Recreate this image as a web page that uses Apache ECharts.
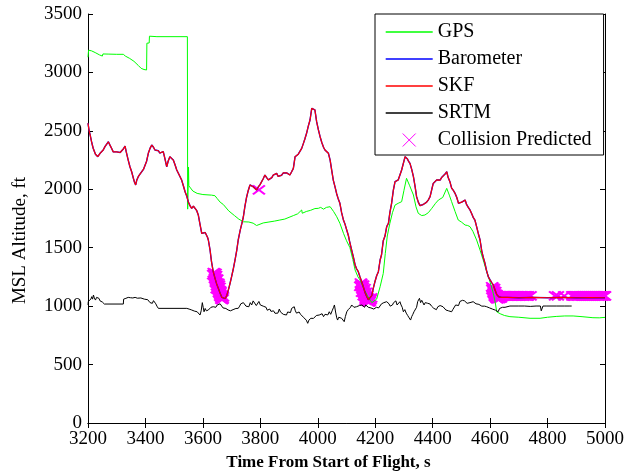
<!DOCTYPE html>
<html>
<head>
<meta charset="utf-8">
<script src="https://cdn.jsdelivr.net/npm/echarts@6/dist/echarts.min.js"></script>
<style>
  html, body { margin: 0; padding: 0; background: #fff; }
  #chart { width: 629px; height: 476px; }
</style>
</head>
<body>
<div id="chart"></div>
<script>
// ---- Data: [time s, altitude ft] ----
const gpsData = [
  [3200,3130],[3202,3190],[3206,3195],[3212,3185],[3225,3170],[3240,3150],[3250,3140],[3252,3158],
  [3270,3157],[3300,3155],[3323,3155],[3330,3140],[3345,3120],[3360,3095],[3375,3060],[3385,3035],
  [3395,3025],[3404,3021],[3405,3250],[3413,3252],[3414,3310],[3420,3312],[3440,3306],[3546,3306],
  [3547,1830],[3549,1830],[3550,2190],[3551,2030],[3555,2015],[3565,1985],[3580,1965],[3600,1955],
  [3630,1950],[3642,1945],[3650,1920],[3660,1890],[3671,1870],[3690,1815],[3710,1775],[3725,1745],
  [3741,1722],[3760,1720],[3775,1710],[3787,1690],[3790,1705],[3810,1712],[3830,1720],[3850,1728],
  [3868,1737],[3885,1745],[3900,1760],[3915,1775],[3930,1790],[3944,1823],[3946,1795],[3960,1810],
  [3975,1820],[3990,1835],[4002,1837],[4010,1845],[4020,1830],[4030,1845],[4043,1851],[4055,1810],
  [4066,1765],[4077,1709],[4090,1620],[4100,1560],[4112,1500],[4122,1400],[4130,1309],[4140,1250],
  [4147,1224],[4160,1150],[4175,1080],[4188,1030],[4193,1024],[4205,1060],[4217,1166],[4228,1280],
  [4235,1450],[4242,1600],[4251,1709],[4260,1800],[4269,1865],[4280,1880],[4292,1894],[4300,1990],
  [4309,2094],[4320,2030],[4333,1951],[4342,1850],[4350,1794],[4362,1775],[4373,1780],[4385,1800],
  [4397,1837],[4410,1880],[4420,1908],[4435,1930],[4449,2008],[4458,1950],[4466,1894],[4478,1810],
  [4489,1737],[4500,1720],[4513,1694],[4522,1690],[4530,1680],[4540,1640],[4553,1566],[4565,1480],
  [4576,1395],[4585,1320],[4594,1252],[4603,1180],[4611,1110],[4618,1030],[4623,952],[4635,935],
  [4650,920],[4669,910],[4700,905],[4739,896],[4774,896],[4800,905],[4830,912],[4860,916],
  [4889,916],[4920,910],[4958,901],[4980,900],[5000,904]
];

const skfData = [
  [3200,2565],[3204,2500],[3208,2460],[3213,2400],[3218,2351],[3226,2300],[3234,2279],[3242,2308],
  [3248,2300],[3253,2336],[3259,2365],[3265,2370],[3271,2407],[3276,2380],[3282,2351],[3288,2320],
  [3294,2308],[3300,2320],[3306,2322],[3312,2315],[3318,2330],[3323,2345],[3329,2370],[3333,2322],
  [3340,2250],[3346,2193],[3352,2150],[3358,2094],[3362,2060],[3366,2037],[3370,2080],[3375,2108],
  [3381,2130],[3387,2150],[3393,2170],[3398,2179],[3404,2240],[3410,2308],[3416,2350],[3422,2379],
  [3428,2360],[3433,2336],[3439,2320],[3445,2330],[3450,2310],[3456,2293],[3462,2322],[3468,2260],
  [3474,2193],[3479,2240],[3485,2279],[3491,2265],[3497,2250],[3503,2210],[3509,2165],[3518,2120],
  [3526,2079],[3532,2030],[3538,1979],[3544,1940],[3549,1894],[3555,1860],[3561,1837],[3567,1855],
  [3573,1865],[3578,1820],[3584,1780],[3590,1700],[3596,1623],[3602,1609],[3608,1630],[3611,1623],
  [3616,1590],[3619,1566],[3625,1480],[3630,1380],[3636,1295],[3642,1240],[3648,1190],[3654,1150],
  [3660,1110],[3666,1075],[3672,1062],[3678,1065],[3683,1090],[3690,1150],[3695,1200],[3700,1252],
  [3706,1320],[3712,1395],[3718,1480],[3723,1566],[3730,1650],[3736,1710],[3741,1765],[3746,1850],
  [3752,1930],[3758,1990],[3764,2037],[3770,2030],[3776,2020],[3781,2010],[3787,1994],[3793,2020],
  [3799,2040],[3805,2051],[3810,2090],[3816,2122],[3822,2100],[3828,2080],[3834,2065],[3840,2100],
  [3845,2122],[3851,2130],[3857,2136],[3862,2110],[3868,2094],[3874,2120],[3880,2140],[3886,2150],
  [3892,2140],[3897,2130],[3903,2122],[3909,2150],[3915,2179],[3921,2279],[3927,2290],[3932,2300],
  [3938,2308],[3944,2350],[3950,2393],[3955,2430],[3961,2479],[3967,2540],[3973,2593],[3979,2693],
  [3984,2700],[3990,2679],[3996,2579],[4002,2510],[4008,2450],[4014,2400],[4020,2360],[4025,2336],
  [4031,2320],[4037,2308],[4043,2250],[4048,2170],[4054,2079],[4060,2020],[4066,1960],[4071,1920],
  [4077,1880],[4083,1800],[4089,1740],[4095,1700],[4101,1650],[4107,1600],[4112,1540],[4118,1480],
  [4124,1420],[4130,1352],[4135,1320],[4141,1295],[4147,1250],[4153,1209],[4158,1170],[4164,1120],
  [4170,1085],[4176,1055],[4182,1045],[4188,1090],[4193,1150],[4199,1209],[4205,1260],[4211,1295],
  [4217,1395],[4222,1440],[4228,1560],[4234,1600],[4240,1680],[4246,1709],[4251,1800],[4257,1880],
  [4263,1990],[4269,2065],[4275,2079],[4280,2080],[4286,2079],[4292,2165],[4298,2179],[4304,2279],
  [4307,2285],[4312,2260],[4316,2240],[4321,2222],[4327,2170],[4333,2108],[4339,2020],[4344,1937],
  [4350,1890],[4356,1860],[4362,1851],[4367,1870],[4373,1865],[4379,1890],[4385,1910],[4391,1937],
  [4397,2000],[4402,2050],[4408,2065],[4414,2080],[4420,2079],[4426,2079],[4431,2100],[4437,2108],
  [4443,2130],[4449,2150],[4454,2100],[4460,2065],[4466,2010],[4472,1990],[4478,1965],[4484,1930],
  [4490,1880],[4495,1865],[4501,1890],[4507,1905],[4513,1908],[4518,1870],[4524,1845],[4530,1823],
  [4536,1790],[4541,1760],[4547,1737],[4553,1680],[4559,1620],[4565,1566],[4571,1470],[4576,1420],
  [4582,1367],[4588,1300],[4594,1250],[4600,1224],[4606,1200],[4611,1181],[4617,1140],[4623,1100],
  [4630,1080],[4640,1075],[4660,1075],[4700,1072],[4750,1075],[4800,1072],[4850,1075],[4900,1072],
  [4950,1073],[5000,1072]
];

// Barometer trace coincides with the SKF trace in the picture
const baroData = skfData;

const srtmData = [
  [3200,1010],[3201,1040],[3205,1030],[3210,1060],[3213,1081],[3216,1060],[3219,1095],[3222,1070],
  [3226,1052],[3230,1075],[3234,1060],[3238,1067],[3242,1045],[3246,1050],[3250,1035],[3253,1024],
  [3257,1018],[3323,1018],[3324,1060],[3328,1050],[3332,1067],[3336,1055],[3340,1075],[3344,1060],
  [3348,1072],[3352,1058],[3356,1070],[3360,1062],[3364,1075],[3368,1060],[3372,1068],[3378,1062],
  [3384,1070],[3390,1065],[3396,1060],[3402,1064],[3408,1055],[3412,1047],[3416,1030],[3420,1040],
  [3424,1024],[3428,1047],[3432,1030],[3436,1020],[3440,1000],[3445,981],[3544,981],[3548,990],
  [3552,975],[3556,985],[3561,967],[3566,970],[3570,958],[3575,960],[3580,952],[3585,940],
  [3590,924],[3594,960],[3598,1030],[3601,990],[3604,952],[3608,980],[3612,960],[3616,975],
  [3619,967],[3624,980],[3628,990],[3632,985],[3636,995],[3640,1005],[3645,990],[3650,1010],
  [3655,1000],[3660,1020],[3665,1010],[3670,985],[3675,1000],[3680,980],[3684,990],[3688,967],
  [3692,975],[3696,960],[3700,952],[3705,970],[3710,965],[3715,980],[3719,975],[3723,981],
  [3728,1000],[3732,1020],[3736,1010],[3741,1030],[3745,1015],[3750,1000],[3755,1010],[3760,995],
  [3765,1030],[3770,1010],[3775,1045],[3781,1038],[3786,1005],[3790,1018],[3795,1040],[3800,1010],
  [3805,1018],[3810,1000],[3815,985],[3820,990],[3824,965],[3828,952],[3833,975],[3837,955],
  [3841,945],[3846,960],[3851,939],[3856,955],[3861,940],[3866,975],[3870,950],[3875,960],
  [3880,930],[3884,945],[3891,924],[3895,950],[3900,960],[3905,945],[3909,981],[3913,970],
  [3918,995],[3922,960],[3926,940],[3930,939],[3935,950],[3940,930],[3945,920],[3950,905],
  [3955,896],[3960,880],[3965,853],[3969,880],[3972,870],[3976,896],[3980,910],[3985,895],
  [3990,905],[3995,920],[4000,905],[4005,924],[4010,915],[4015,935],[4020,910],[4025,930],
  [4030,939],[4035,925],[4040,952],[4045,930],[4050,960],[4055,990],[4058,1010],[4062,950],
  [4066,900],[4069,881],[4073,905],[4078,890],[4083,896],[4088,880],[4092,867],[4096,910],
  [4101,952],[4106,970],[4110,985],[4114,990],[4118,1010],[4122,1000],[4126,990],[4130,981],
  [4135,995],[4140,985],[4145,1005],[4150,995],[4154,1010],[4158,1001],[4163,990],[4167,1010],
  [4172,1005],[4176,990],[4180,1000],[4185,985],[4190,1000],[4195,975],[4199,981],[4204,990],
  [4208,995],[4212,985],[4217,1000],[4222,1020],[4226,1010],[4230,1030],[4235,1015],[4240,1038],
  [4244,1047],[4248,1020],[4252,1000],[4256,995],[4260,1010],[4264,1030],[4268,1020],[4272,1045],
  [4276,1010],[4280,1000],[4286,1038],[4290,1010],[4294,990],[4298,952],[4303,970],[4308,940],
  [4313,920],[4318,900],[4323,881],[4327,910],[4331,930],[4335,952],[4340,960],[4344,990],
  [4348,1040],[4354,1067],[4358,1030],[4362,1050],[4366,1040],[4370,1010],[4374,1030],[4378,1045],
  [4382,1025],[4387,1010],[4391,1018],[4396,1000],[4400,990],[4404,981],[4409,990],[4413,970],
  [4418,995],[4422,985],[4426,1005],[4431,1010],[4436,995],[4440,985],[4446,967],[4450,980],
  [4455,960],[4460,965],[4466,952],[4470,970],[4476,985],[4480,1010],[4485,1020],[4490,1005],
  [4495,1040],[4500,1030],[4504,1050],[4507,1067],[4511,1045],[4515,1035],[4520,1024],[4525,1040],
  [4530,1030],[4535,1045],[4541,1038],[4546,1025],[4551,1020],[4556,1010],[4561,1015],[4566,1005],
  [4571,1000],[4576,1010],[4581,1000],[4588,995],[4593,990],[4598,985],[4603,980],[4608,975],
  [4614,973],[4619,965],[4624,955],[4628,952],[4633,980],[4638,970],[4643,990],[4646,995],
  [4652,990],[4658,1000],[4669,1001],[4700,1001],[4720,1001],[4740,998],[4760,1001],[4775,1001],
  [4778,960],[4781,952],[4784,1001],[4795,1001],[4830,1001],[4860,1001],[4875,1001],[4880,985],
  [4884,1001],[4886,1001]
];

// Collision predictions: dense clusters of X markers as seen in the picture
const collisionData = [
  [3795,1994],
  // cluster near 3650 s
  [3638,1288],[3640,1280],[3639,1268],[3641,1262],[3643,1250],[3642,1238],[3645,1232],[3646,1220],
  [3645,1206],[3648,1200],[3650,1190],[3649,1176],[3652,1170],[3653,1158],[3652,1146],[3655,1140],
  [3657,1128],[3656,1116],[3659,1110],[3661,1098],[3660,1086],[3663,1080],[3665,1070],[3664,1060],
  [3667,1056],[3669,1062],[3646,1262],[3650,1232],[3654,1196],[3658,1160],[3662,1122],[3666,1090],
  [3636,1270],[3644,1280],[3648,1150],[3656,1180],[3660,1130],[3670,1080],
  // cluster near 4170 s
  [4150,1198],[4152,1190],[4151,1178],[4154,1170],[4156,1160],[4155,1148],[4158,1140],[4160,1130],
  [4159,1118],[4162,1110],[4164,1100],[4163,1088],[4166,1082],[4168,1074],[4167,1062],[4170,1056],
  [4172,1050],[4174,1042],[4176,1036],[4178,1040],[4180,1036],[4182,1044],[4158,1180],[4163,1150],
  [4168,1118],[4172,1090],[4176,1068],[4180,1060],[4184,1058],[4186,1070],[4148,1170],[4154,1120],
  [4160,1090],[4166,1050],
  // cluster near 4620 s and the run to the right
  [4607,1166],[4609,1156],[4608,1144],[4611,1138],[4613,1126],[4612,1114],[4615,1108],[4617,1098],
  [4616,1086],[4619,1080],[4621,1072],[4623,1066],[4625,1062],[4628,1070],[4631,1064],[4634,1076],
  [4637,1068],[4640,1080],[4614,1150],[4618,1124],[4622,1100],[4626,1090],[4630,1086],[4634,1090],
  [4642,1088],[4645,1086],[4648,1090],[4652,1087],[4655,1088],[4659,1086],[4662,1089],[4666,1087],
  [4669,1088],[4673,1086],[4676,1089],[4680,1087],[4683,1088],[4687,1086],[4690,1089],[4694,1087],
  [4697,1088],[4701,1086],[4704,1089],[4708,1087],[4711,1088],[4715,1086],[4718,1089],[4722,1087],
  [4725,1088],[4729,1086],[4732,1088],[4741,1087],
  [4826,1087],[4836,1088],[4858,1087],
  [4886,1087],[4890,1088],[4893,1086],[4897,1089],[4900,1087],[4904,1088],[4907,1086],[4911,1089],
  [4914,1087],[4918,1088],[4921,1086],[4925,1089],[4928,1087],[4932,1088],[4935,1086],[4939,1089],
  [4942,1087],[4946,1088],[4949,1086],[4953,1089],[4956,1087],[4960,1088],[4963,1086],[4967,1089],
  [4970,1087],[4974,1088],[4977,1086],[4981,1089],[4984,1087],[4988,1088],[4991,1086],[4995,1089],
  [4998,1087],[5000,1088]
];

const seriesNames = ['GPS', 'Barometer', 'SKF', 'SRTM', 'Collision Predicted'];

// ---- Chart ----
const FONT = 'Liberation Serif';
const chart = echarts.init(document.getElementById('chart'), null, { renderer: 'canvas' });

const axisCommon = {
  axisLine: { show: true, lineStyle: { color: '#000', width: 1 } },
  axisTick: { show: true, inside: true, length: 5, lineStyle: { color: '#000' } },
  splitLine: { show: false },
  minorTick: { show: false }
};

const X_ICON = 'path://M0,0L10,10M10,0L0,10';
const plain = v => String(v);

const option = {
  animation: false,
  backgroundColor: '#fff',
  grid: { left: 88, right: 24, top: 14, bottom: 53, containLabel: false },
  legend: {
    orient: 'vertical',
    left: 375,
    top: 14,
    padding: [8, 12, 5, 10],
    itemWidth: 47,
    itemHeight: 13,
    itemGap: 7,
    itemTextGap: 5,
    backgroundColor: '#fff',
    borderColor: '#000',
    borderWidth: 1,
    borderRadius: 0,
    textStyle: { fontFamily: FONT, fontSize: 20, color: '#000' },
    data: seriesNames.map((n, i) => i < 4
      ? { name: n, itemStyle: { opacity: 0 }, lineStyle: { width: 1.4 } }
      : { name: n, itemStyle: { borderWidth: 1 } })
  },
  xAxis: [
    Object.assign({}, axisCommon, {
      type: 'value', min: 3200, max: 5000, interval: 200, position: 'bottom',
      axisLabel: { color: '#000', fontFamily: FONT, fontSize: 19, margin: 7, formatter: plain },
      name: 'Time From Start of Flight, s', nameLocation: 'middle', nameGap: 28,
      nameTextStyle: { color: '#000', fontFamily: FONT, fontSize: 17, fontWeight: 'bold',
                       padding: [0, 36, 0, 0] }
    }),
    Object.assign({}, axisCommon, {
      type: 'value', min: 3200, max: 5000, interval: 200, position: 'top',
      axisLabel: { show: false }
    })
  ],
  yAxis: [
    Object.assign({}, axisCommon, {
      type: 'value', min: 0, max: 3500, interval: 500, position: 'left',
      axisLabel: { color: '#000', fontFamily: FONT, fontSize: 19, margin: 6, formatter: plain },
      name: 'MSL Altitude, ft', nameLocation: 'middle', nameGap: 58,
      nameTextStyle: { color: '#000', fontFamily: FONT, fontSize: 19, padding: [0, 44, 0, 0] }
    }),
    Object.assign({}, axisCommon, {
      type: 'value', min: 0, max: 3500, interval: 500, position: 'right',
      axisLabel: { show: false }
    })
  ],
  series: [
    {
      name: 'GPS', type: 'line', data: gpsData, symbol: 'none',
      lineStyle: { color: '#00ff00', width: 1 }, itemStyle: { color: '#00ff00' }
    },
    {
      name: 'Barometer', type: 'line', data: baroData, symbol: 'none',
      lineStyle: { color: '#0000ff', width: 1.4 }, itemStyle: { color: '#0000ff' }
    },
    {
      name: 'SKF', type: 'line', data: skfData, symbol: 'none',
      lineStyle: { color: '#ff0000', width: 1.2 }, itemStyle: { color: '#ff0000' }
    },
    {
      name: 'SRTM', type: 'line', data: srtmData, symbol: 'none',
      lineStyle: { color: '#000000', width: 1 }, itemStyle: { color: '#000000' }
    },
    {
      name: 'Collision Predicted', type: 'scatter', data: collisionData,
      symbol: X_ICON, symbolSize: [12, 9], symbolKeepAspect: true, clip: false,
      itemStyle: { color: 'none', borderColor: '#ff00ff', borderWidth: 2, opacity: 1 }
    }
  ]
};

chart.setOption(option);
</script>
</body>
</html>
